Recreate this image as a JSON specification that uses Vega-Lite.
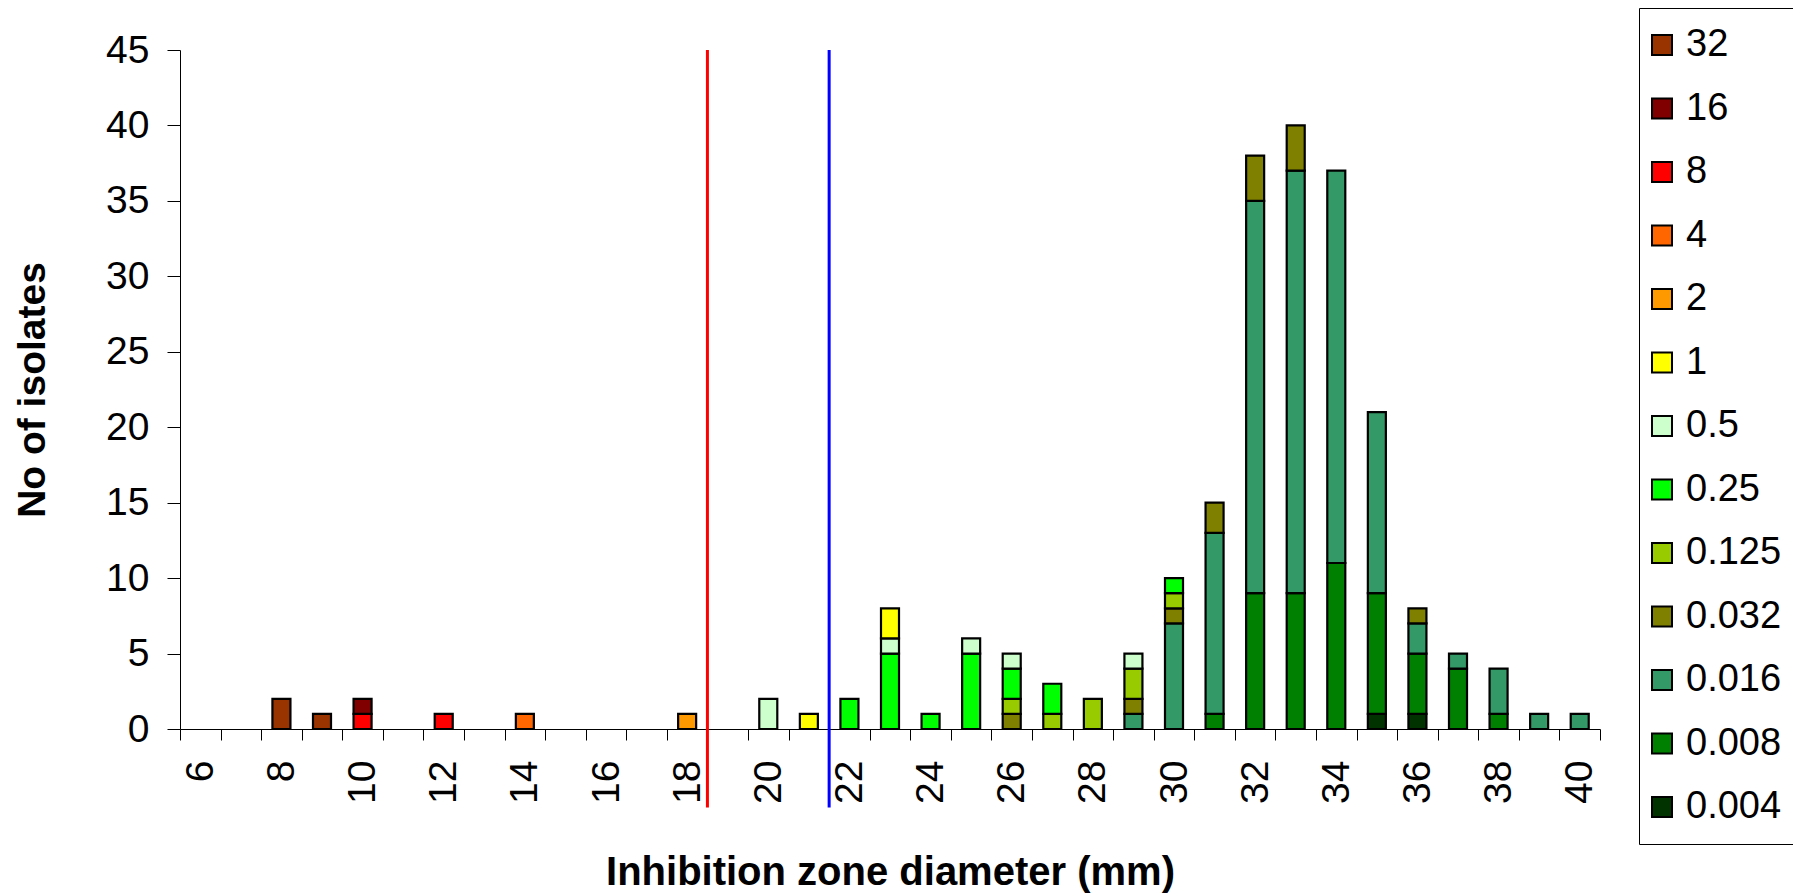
{
  "$schema": "https://vega.github.io/schema/vega-lite/v6.json",
  "autosize": "none",
  "width": 1420,
  "height": 679,
  "padding": {"left": 180, "top": 50, "right": 193, "bottom": 165},
  "background": "white",
  "config": {
    "view": {"stroke": null},
    "font": "Liberation Sans",
    "axis": {"grid": false, "domainColor": "black", "tickColor": "black", "labelColor": "black", "titleColor": "black", "labelFont": "Liberation Sans", "titleFont": "Liberation Sans"}
  },
  "datasets": {
    "counts": [
      {"d": 8, "mic": 32, "n": 2},
      {"d": 9, "mic": 32, "n": 1},
      {"d": 10, "mic": 8, "n": 1},
      {"d": 10, "mic": 16, "n": 1},
      {"d": 12, "mic": 8, "n": 1},
      {"d": 14, "mic": 4, "n": 1},
      {"d": 18, "mic": 2, "n": 1},
      {"d": 20, "mic": 0.5, "n": 2},
      {"d": 21, "mic": 1, "n": 1},
      {"d": 22, "mic": 0.25, "n": 2},
      {"d": 23, "mic": 0.25, "n": 5},
      {"d": 23, "mic": 0.5, "n": 1},
      {"d": 23, "mic": 1, "n": 2},
      {"d": 24, "mic": 0.25, "n": 1},
      {"d": 25, "mic": 0.25, "n": 5},
      {"d": 25, "mic": 0.5, "n": 1},
      {"d": 26, "mic": 0.032, "n": 1},
      {"d": 26, "mic": 0.125, "n": 1},
      {"d": 26, "mic": 0.25, "n": 2},
      {"d": 26, "mic": 0.5, "n": 1},
      {"d": 27, "mic": 0.125, "n": 1},
      {"d": 27, "mic": 0.25, "n": 2},
      {"d": 28, "mic": 0.125, "n": 2},
      {"d": 29, "mic": 0.016, "n": 1},
      {"d": 29, "mic": 0.032, "n": 1},
      {"d": 29, "mic": 0.125, "n": 2},
      {"d": 29, "mic": 0.5, "n": 1},
      {"d": 30, "mic": 0.016, "n": 7},
      {"d": 30, "mic": 0.032, "n": 1},
      {"d": 30, "mic": 0.125, "n": 1},
      {"d": 30, "mic": 0.25, "n": 1},
      {"d": 31, "mic": 0.008, "n": 1},
      {"d": 31, "mic": 0.016, "n": 12},
      {"d": 31, "mic": 0.032, "n": 2},
      {"d": 32, "mic": 0.008, "n": 9},
      {"d": 32, "mic": 0.016, "n": 26},
      {"d": 32, "mic": 0.032, "n": 3},
      {"d": 33, "mic": 0.008, "n": 9},
      {"d": 33, "mic": 0.016, "n": 28},
      {"d": 33, "mic": 0.032, "n": 3},
      {"d": 34, "mic": 0.008, "n": 11},
      {"d": 34, "mic": 0.016, "n": 26},
      {"d": 35, "mic": 0.004, "n": 1},
      {"d": 35, "mic": 0.008, "n": 8},
      {"d": 35, "mic": 0.016, "n": 12},
      {"d": 36, "mic": 0.004, "n": 1},
      {"d": 36, "mic": 0.008, "n": 4},
      {"d": 36, "mic": 0.016, "n": 2},
      {"d": 36, "mic": 0.032, "n": 1},
      {"d": 37, "mic": 0.008, "n": 4},
      {"d": 37, "mic": 0.016, "n": 1},
      {"d": 38, "mic": 0.008, "n": 1},
      {"d": 38, "mic": 0.016, "n": 3},
      {"d": 39, "mic": 0.016, "n": 1},
      {"d": 40, "mic": 0.016, "n": 1}
    ],
    "breakpoints": [
      {"bp": 18.5, "kind": "R"},
      {"bp": 21.5, "kind": "S"}
    ]
  },
  "layer": [
    {
      "data": {"name": "counts"},
      "mark": {"type": "bar", "width": {"band": 0.444}, "stroke": "black", "strokeWidth": 2.2},
      "encoding": {
        "x": {
          "field": "d", "type": "ordinal",
          "scale": {"domain": [6,7,8,9,10,11,12,13,14,15,16,17,18,19,20,21,22,23,24,25,26,27,28,29,30,31,32,33,34,35,36,37,38,39,40], "paddingInner": 0, "paddingOuter": 0},
          "axis": {
            "title": "Inhibition zone diameter (mm)",
            "titleFontSize": 40, "titleFontWeight": "bold", "titlePadding": 49,
            "labelAngle": 270, "labelFontSize": 39, "labelPadding": 20,
            "labelExpr": "datum.value % 2 === 0 ? datum.label : ''",
            "labelOverlap": false,
            "tickBand": "extent", "tickSize": 11
          }
        },
        "y": {
          "aggregate": "sum", "field": "n", "type": "quantitative", "stack": "zero",
          "scale": {"domain": [0, 45], "nice": false},
          "axis": {
            "title": "No of isolates",
            "titleFontSize": 39, "titleFontWeight": "bold", "titlePadding": 53,
            "values": [0,5,10,15,20,25,30,35,40,45],
            "labelFontSize": 39, "labelPadding": 18, "tickSize": 13
          }
        },
        "color": {
          "field": "mic", "type": "nominal",
          "scale": {
            "domain": [32,16,8,4,2,1,0.5,0.25,0.125,0.032,0.016,0.008,0.004],
            "range": ["#993300","#800000","#FF0000","#FF6600","#FF9900","#FFFF00","#CCFFCC","#00FF00","#99CC00","#808000","#339966","#008000","#003300"]
          },
          "legend": {
            "title": null, "orient": "none", "legendX": 1459, "legendY": -42,
            "direction": "vertical",
            "strokeColor": "black", "padding": 18,
            "labelFontSize": 38, "labelFont": "Liberation Sans", "labelColor": "black", "labelLimit": 300,
            "symbolType": "square", "symbolSize": 400, "symbolStrokeColor": "black", "symbolStrokeWidth": 2, "symbolOpacity": 1,
            "symbolOffset": -14,
            "rowPadding": 25.5, "labelOffset": 5
          }
        },
        "order": {"field": "mic", "type": "quantitative", "sort": "ascending"}
      }
    },
    {
      "data": {"name": "breakpoints"},
      "mark": {"type": "rule", "strokeWidth": 3, "clip": false},
      "encoding": {
        "x": {"field": "bp", "type": "quantitative", "scale": {"domain": [5.5, 40.5], "nice": false, "zero": false}, "axis": null},
        "y": {"datum": 45},
        "y2": {"datum": -5.2},
        "stroke": {"field": "kind", "type": "nominal", "scale": {"domain": ["R", "S"], "range": ["#FF0000", "#0000FF"]}, "legend": null}
      }
    }
  ],
  "resolve": {"scale": {"x": "independent"}}
}
